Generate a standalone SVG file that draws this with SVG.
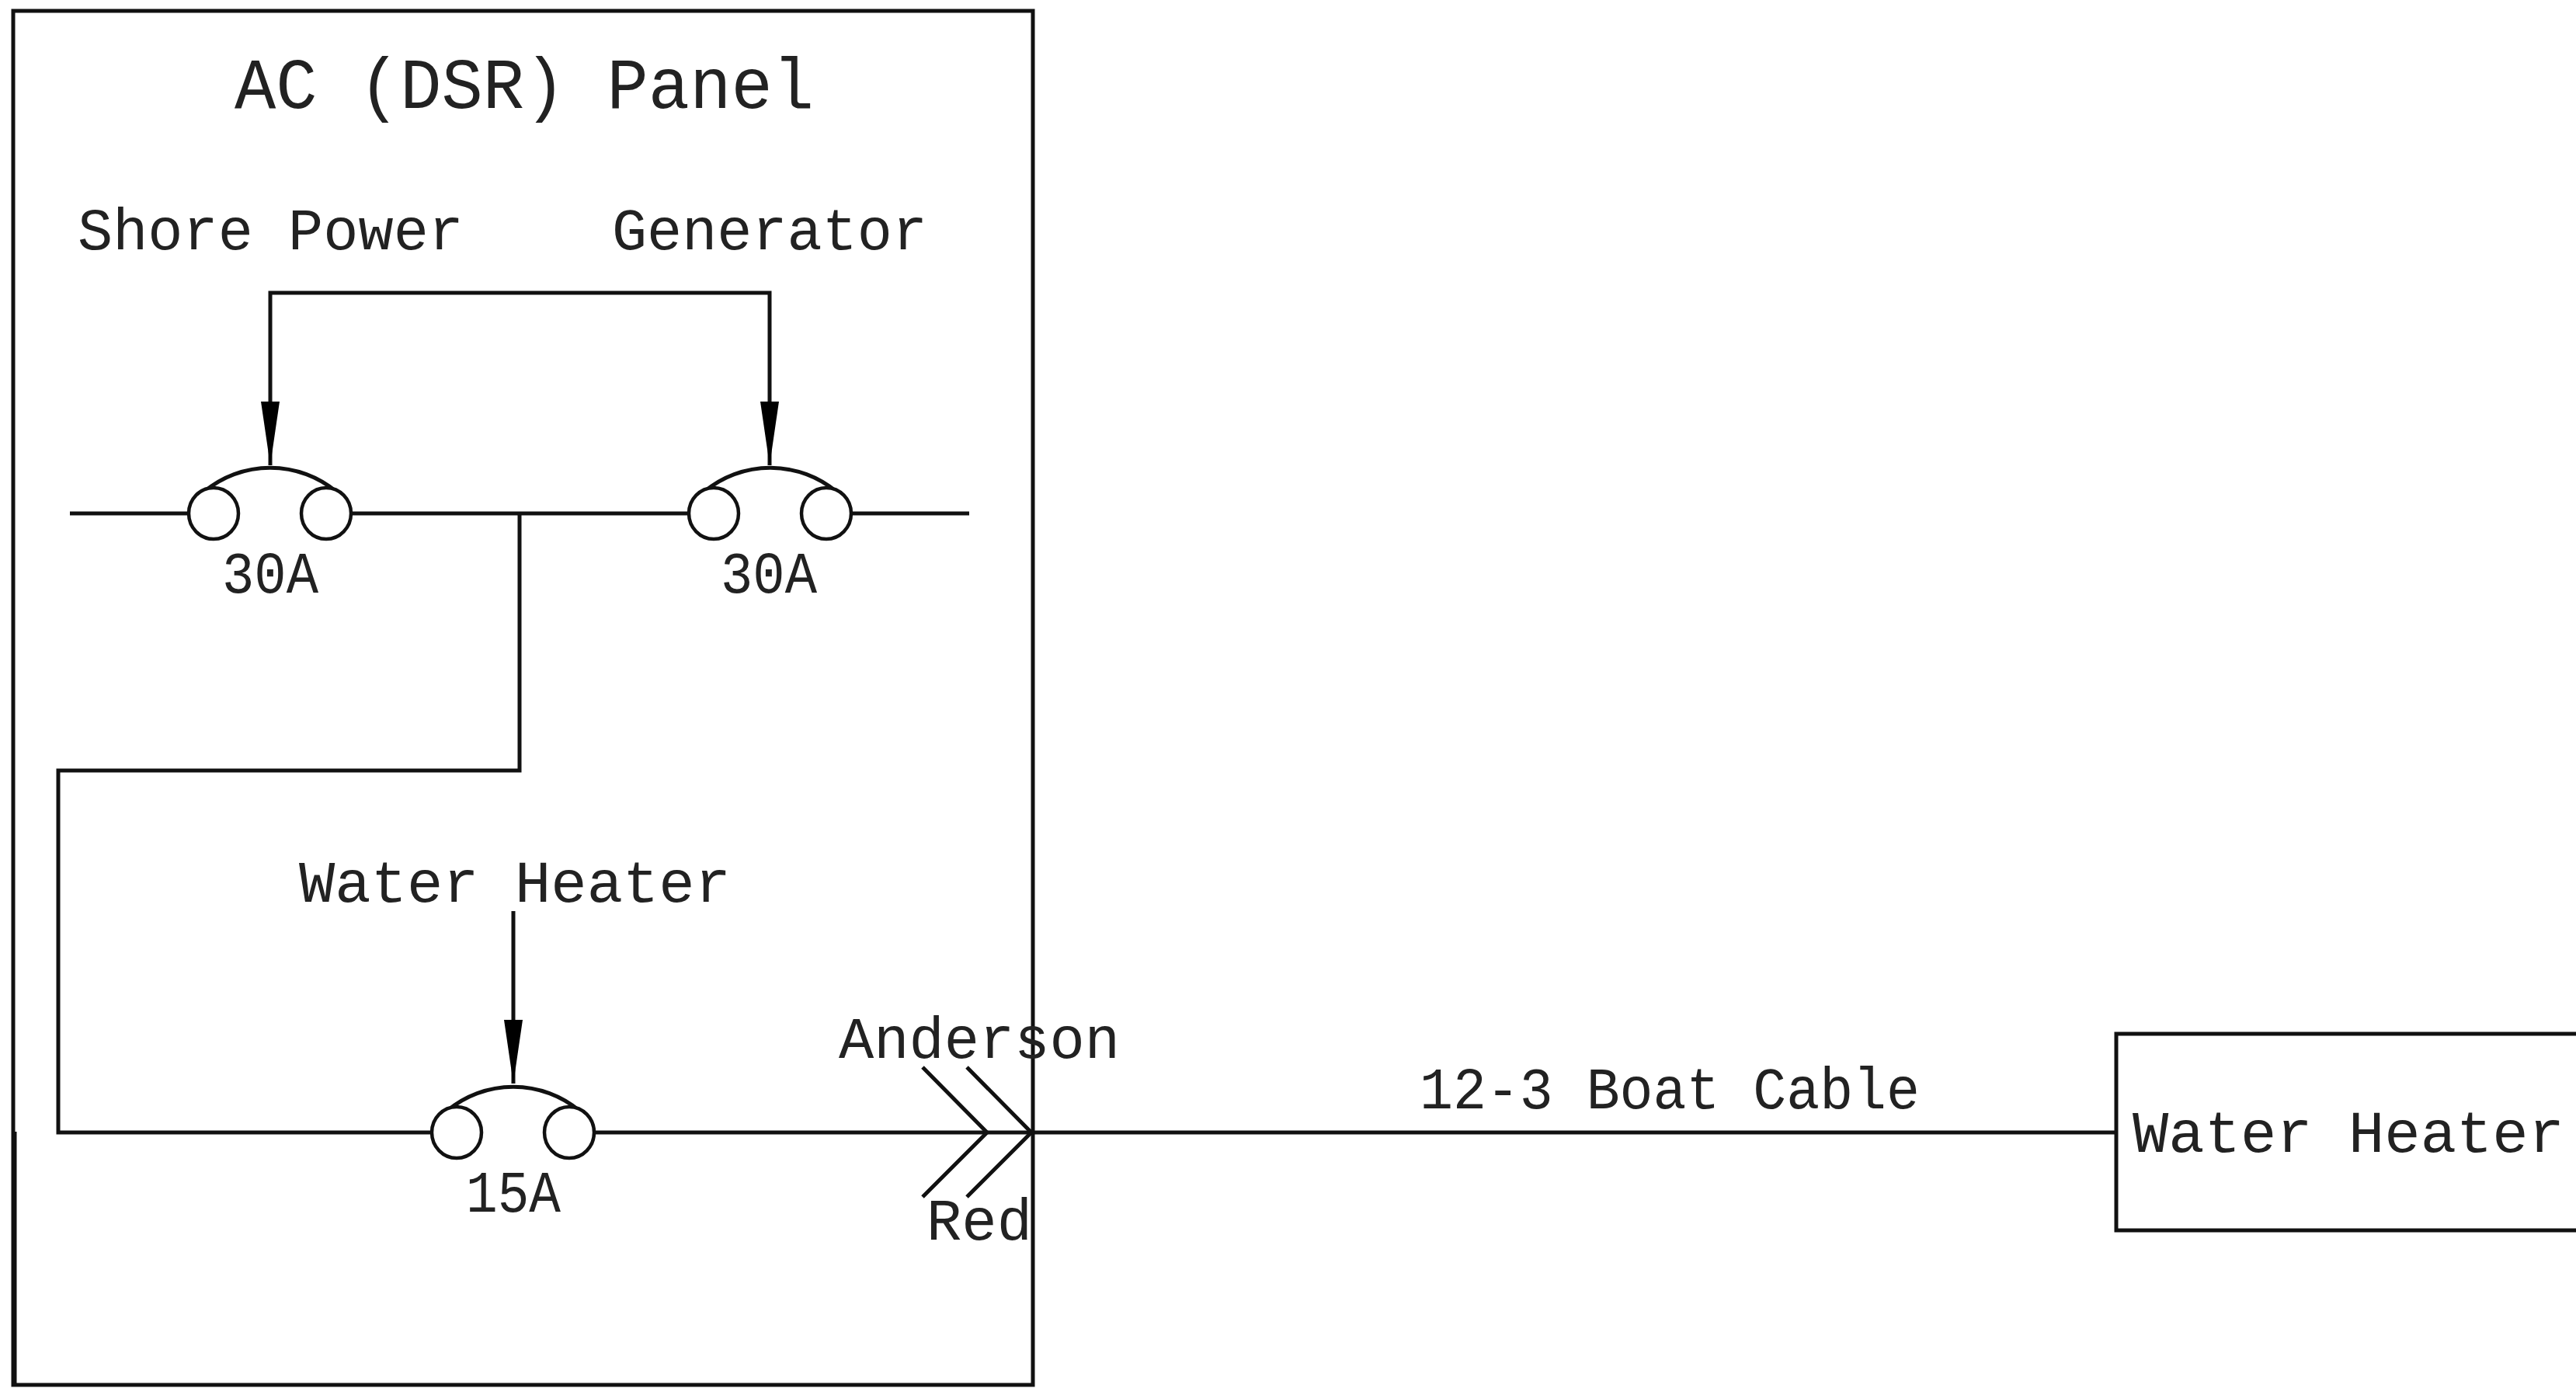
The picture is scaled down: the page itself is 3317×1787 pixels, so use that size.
<svg xmlns="http://www.w3.org/2000/svg" width="3317" height="1787" viewBox="0 0 3317 1787">
<style>
.l{fill:none;stroke:#111;stroke-width:5}
.h{fill:#fff;stroke:#111;stroke-width:4.5}
.a{fill:#000;stroke:none}
text{font-family:"Liberation Mono","DejaVu Sans Mono",monospace;font-size:76px;fill:#222}
.t{font-size:93px}
</style>
<defs>
<g id="breaker">
<path class="l" d="M-85,-28 A133,133 0 0 1 85,-28"/>
<ellipse class="h" cx="-73" cy="0" rx="32" ry="33"/>
<ellipse class="h" cx="72" cy="0" rx="32" ry="33"/>
</g>
<polygon id="arrow" class="a" points="-12,-82 12,-82 0,0"/>
</defs>
<rect width="3317" height="1787" fill="#fff"/>
<g id="connectors">
<path class="l" d="M348,599V377H991V599"/>
<path class="l" d="M90,661H243M452,661H888M1095,661H1248"/>
<path class="l" d="M669,661V992H75V1458H557"/>
<path class="l" d="M661,1173V1395"/>
<path class="l" d="M765,1458H2725"/>
<path class="l" d="M1188,1374L1271,1458L1188,1541M1245,1374L1328,1458L1245,1541"/>
<use href="#arrow" x="348" y="599"/>
<use href="#arrow" x="991" y="599"/>
<use href="#arrow" x="661" y="1395"/>
</g>
<g id="panel">
<rect class="l" x="17" y="14" width="1313" height="1769"/>
<path class="l" d="M19,1457V1783"/>
<text class="t" x="302" y="139" textLength="746" lengthAdjust="spacingAndGlyphs">AC (DSR) Panel</text>
</g>
<g id="shore-power"><text x="100" y="321" textLength="497" lengthAdjust="spacingAndGlyphs">Shore Power</text></g>
<g id="generator"><text x="788" y="321" textLength="406" lengthAdjust="spacingAndGlyphs">Generator</text></g>
<g id="breaker-30a-shore"><use href="#breaker" x="348" y="661"/><text x="286" y="763" textLength="124" lengthAdjust="spacingAndGlyphs">30A</text></g>
<g id="breaker-30a-generator"><use href="#breaker" x="992" y="661"/><text x="928" y="763" textLength="124" lengthAdjust="spacingAndGlyphs">30A</text></g>
<g id="water-heater-label"><text x="385" y="1161" textLength="556" lengthAdjust="spacingAndGlyphs">Water Heater</text></g>
<g id="breaker-15a"><use href="#breaker" x="661" y="1458"/><text x="600" y="1560" textLength="122" lengthAdjust="spacingAndGlyphs">15A</text></g>
<g id="anderson"><text x="1080" y="1362" textLength="362" lengthAdjust="spacingAndGlyphs">Anderson</text></g>
<g id="red"><text x="1193" y="1596" textLength="136" lengthAdjust="spacingAndGlyphs">Red</text></g>
<g id="cable-label"><text x="1828" y="1427" textLength="644" lengthAdjust="spacingAndGlyphs">12-3 Boat Cable</text></g>
<g id="water-heater"><rect class="l" x="2725" y="1331" width="600" height="253"/><text x="2746" y="1483" textLength="556" lengthAdjust="spacingAndGlyphs">Water Heater</text></g>
</svg>
